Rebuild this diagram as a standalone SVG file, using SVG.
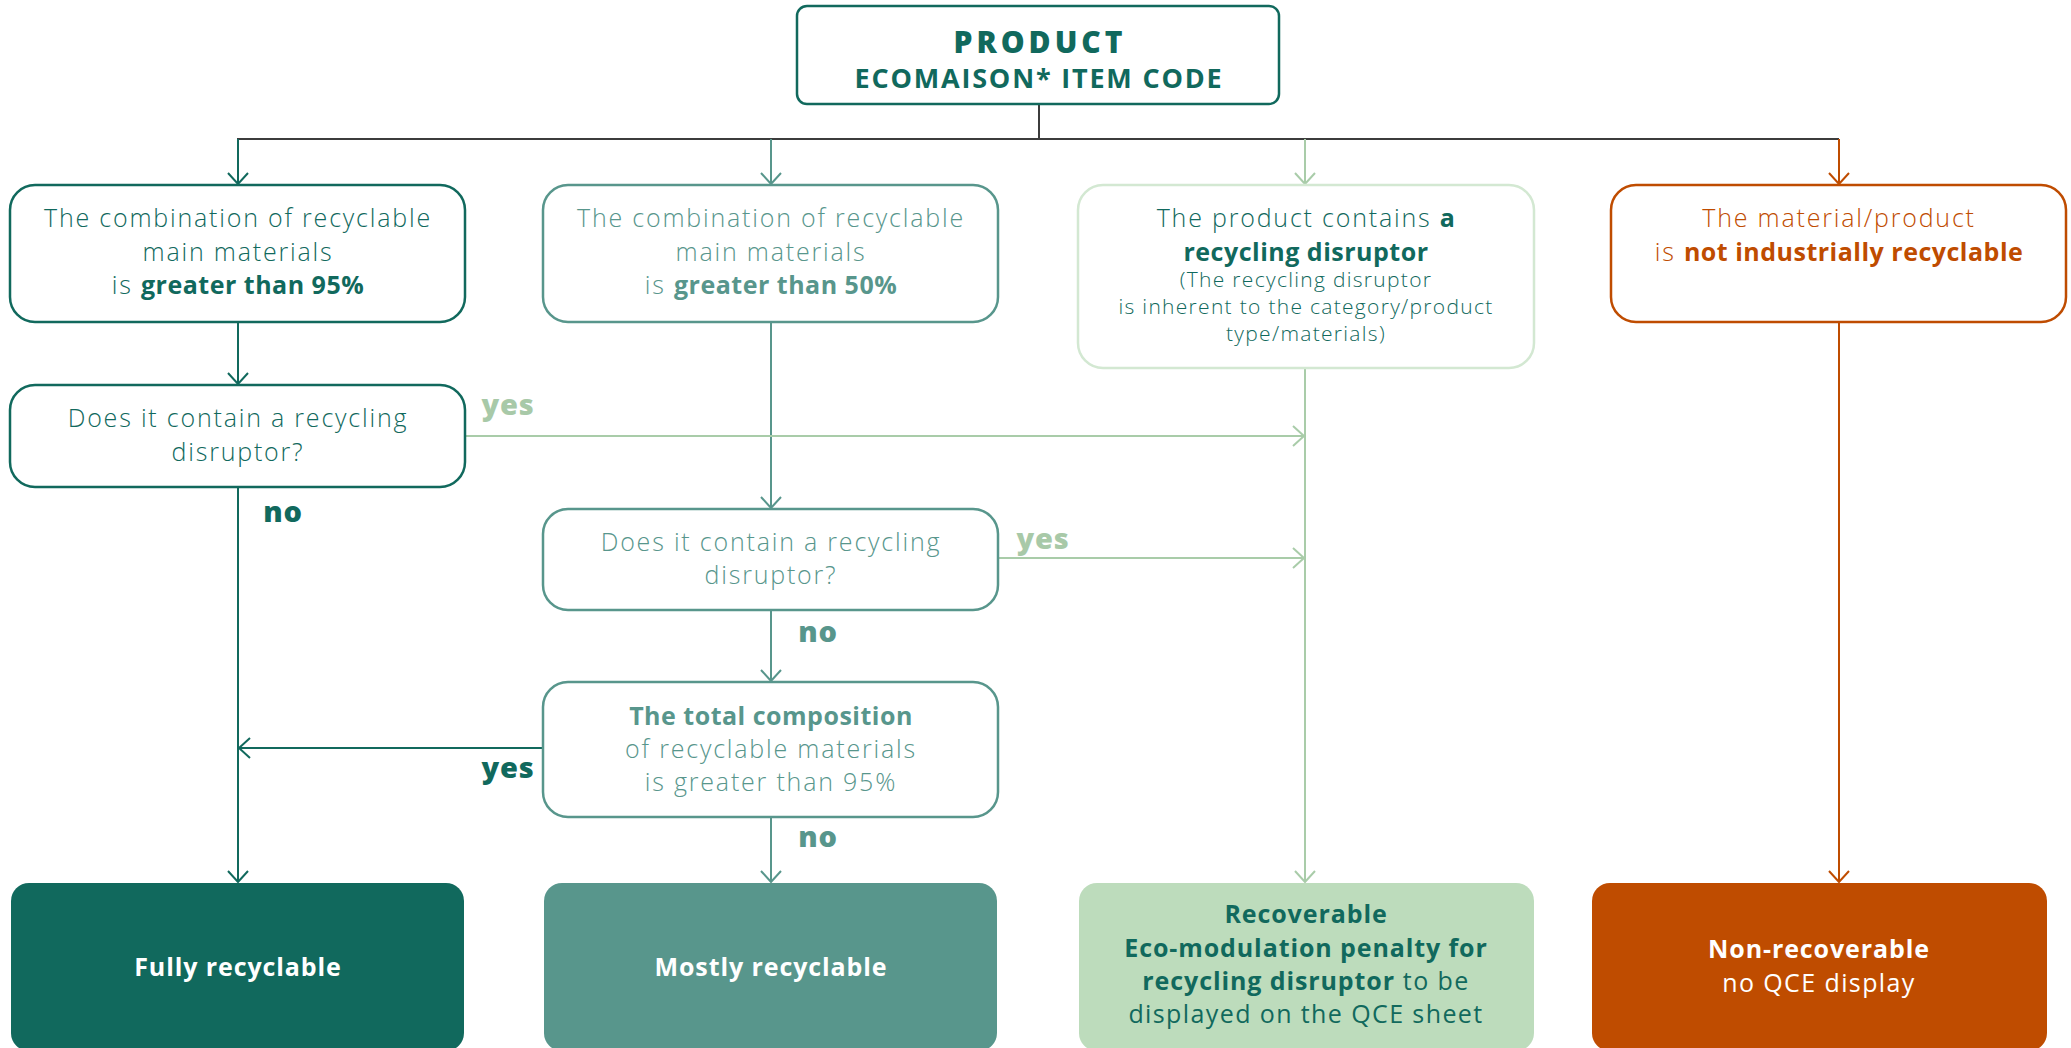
<svg xmlns="http://www.w3.org/2000/svg" width="2071" height="1048" viewBox="0 0 2071 1048">
<defs>
<style>
text{font-family:"Open Sans","Liberation Sans",sans-serif;text-anchor:middle}
.t{font-size:25px;font-weight:300;letter-spacing:1.8px}
.s{font-size:21px;font-weight:300;letter-spacing:1.3px}
.b{font-weight:700;letter-spacing:0.5px}
.bb{font-weight:700;letter-spacing:0.9px}
.r{font-weight:400;letter-spacing:1.4px}
.lbl{font-size:29px;font-weight:800;letter-spacing:0.8px}
.dk{fill:#11695d}.md{fill:#58968c}.lt{fill:#a8c9a8}.or{fill:#bf4c00}.wh{fill:#ffffff}
.box{fill:#ffffff;stroke-width:2.5}
.c{fill:none;stroke-width:2}
</style>
<marker id="aDk" viewBox="-13 -12 15 24" refX="0" refY="0" markerWidth="15" markerHeight="24" markerUnits="userSpaceOnUse" orient="auto"><path d="M-11,-10 L0,0 L-11,10" fill="none" stroke="#11695d" stroke-width="2"/></marker>
<marker id="aMd" viewBox="-13 -12 15 24" refX="0" refY="0" markerWidth="15" markerHeight="24" markerUnits="userSpaceOnUse" orient="auto"><path d="M-11,-10 L0,0 L-11,10" fill="none" stroke="#58968c" stroke-width="2"/></marker>
<marker id="aLt" viewBox="-13 -12 15 24" refX="0" refY="0" markerWidth="15" markerHeight="24" markerUnits="userSpaceOnUse" orient="auto"><path d="M-11,-10 L0,0 L-11,10" fill="none" stroke="#a9cca9" stroke-width="2"/></marker>
<marker id="aOr" viewBox="-13 -12 15 24" refX="0" refY="0" markerWidth="15" markerHeight="24" markerUnits="userSpaceOnUse" orient="auto"><path d="M-11,-10 L0,0 L-11,10" fill="none" stroke="#bf4c00" stroke-width="2"/></marker>
</defs>
<rect width="2071" height="1048" fill="#ffffff"/>

<g id="connectors">
<path class="c" stroke="#3c3c3c" d="M1039,104 V139 M237,139 H1839"/>
<path class="c" stroke="#11695d" marker-end="url(#aDk)" d="M238,139 V184"/>
<path class="c" stroke="#58968c" marker-end="url(#aMd)" d="M771,139 V184"/>
<path class="c" stroke="#a9cca9" marker-end="url(#aLt)" d="M1305,139 V184"/>
<path class="c" stroke="#bf4c00" marker-end="url(#aOr)" d="M1839,139 V184"/>
<path class="c" stroke="#11695d" marker-end="url(#aDk)" d="M238,322 V384"/>
<path class="c" stroke="#11695d" marker-end="url(#aDk)" d="M238,487 V882"/>
<path class="c" stroke="#58968c" marker-end="url(#aMd)" d="M771,322 V508"/>
<path class="c" stroke="#58968c" marker-end="url(#aMd)" d="M771,610 V681"/>
<path class="c" stroke="#58968c" marker-end="url(#aMd)" d="M771,817 V882"/>
<path class="c" stroke="#a9cca9" marker-end="url(#aLt)" d="M1305,368 V882"/>
<path class="c" stroke="#bf4c00" marker-end="url(#aOr)" d="M1839,322 V882"/>
<path class="c" stroke="#a9cca9" marker-end="url(#aLt)" d="M465,436 H1304"/>
<path class="c" stroke="#a9cca9" marker-end="url(#aLt)" d="M998,558 H1304"/>
<path class="c" stroke="#11695d" marker-end="url(#aDk)" d="M543,748 H239"/>
<text class="lbl lt" x="508" y="415">yes</text>
<text class="lbl dk" x="283" y="522">no</text>
<text class="lbl lt" x="1043" y="549">yes</text>
<text class="lbl md" x="818" y="642">no</text>
<text class="lbl dk" x="508" y="778">yes</text>
<text class="lbl md" x="818" y="847">no</text>
</g>

<g id="product">
<rect class="box" x="797" y="6" width="482" height="98" rx="10" stroke="#11695d"/>
<text class="dk" x="1040" y="53" style="font-size:30px;font-weight:900;letter-spacing:4px">PRODUCT</text>
<text class="dk" x="1039" y="88" style="font-size:27px;font-weight:700;letter-spacing:1.8px">ECOMAISON* ITEM CODE</text>
</g>

<g id="box-95">
<rect class="box" x="10" y="185" width="455" height="137" rx="25" stroke="#11695d"/>
<text class="t dk" x="238" y="227">The combination of recyclable</text>
<text class="t dk" x="238" y="261">main materials</text>
<text class="t dk" x="238" y="294">is <tspan class="b">greater than 95%</tspan></text>
</g>

<g id="q-disruptor-1">
<rect class="box" x="10" y="385" width="455" height="102" rx="25" stroke="#11695d"/>
<text class="t dk" x="238" y="427">Does it contain a recycling</text>
<text class="t dk" x="238" y="461">disruptor?</text>
</g>

<g id="box-50">
<rect class="box" x="543" y="185" width="455" height="137" rx="25" stroke="#58968c"/>
<text class="t md" x="771" y="227">The combination of recyclable</text>
<text class="t md" x="771" y="261">main materials</text>
<text class="t md" x="771" y="294">is <tspan class="b">greater than 50%</tspan></text>
</g>

<g id="q-disruptor-2">
<rect class="box" x="543" y="509" width="455" height="101" rx="25" stroke="#58968c"/>
<text class="t md" x="771" y="551">Does it contain a recycling</text>
<text class="t md" x="771" y="584">disruptor?</text>
</g>

<g id="total-composition">
<rect class="box" x="543" y="682" width="455" height="135" rx="25" stroke="#58968c"/>
<text class="t md b" x="771" y="725">The total composition</text>
<text class="t md" x="771" y="758">of recyclable materials</text>
<text class="t md" x="771" y="791">is greater than 95%</text>
</g>

<g id="box-disruptor">
<rect class="box" x="1078" y="185" width="456" height="183" rx="25" stroke="#d3e8d2"/>
<text class="t dk" x="1306" y="227">The product contains <tspan class="b">a</tspan></text>
<text class="t dk b" x="1306" y="261">recycling disruptor</text>
<text class="s dk" x="1306" y="287">(The recycling disruptor</text>
<text class="s dk" x="1306" y="314">is inherent to the category/product</text>
<text class="s dk" x="1306" y="341">type/materials)</text>
</g>

<g id="box-not-recyclable">
<rect class="box" x="1611" y="185" width="455" height="137" rx="25" stroke="#bf4c00"/>
<text class="t or" x="1839" y="227">The material/product</text>
<text class="t or" x="1839" y="261">is <tspan class="b">not industrially recyclable</tspan></text>
</g>

<g id="fully">
<rect x="11" y="883" width="453" height="168" rx="18" fill="#11695d"/>
<text class="t wh bb" x="238" y="976">Fully recyclable</text>
</g>

<g id="mostly">
<rect x="544" y="883" width="453" height="168" rx="18" fill="#58968c"/>
<text class="t wh bb" x="771" y="976">Mostly recyclable</text>
</g>

<g id="recoverable">
<rect x="1079" y="883" width="455" height="168" rx="18" fill="#bddcbc"/>
<text class="t dk bb" x="1306" y="923">Recoverable</text>
<text class="t dk bb" x="1306" y="957">Eco-modulation penalty for</text>
<text class="t dk r" x="1306" y="990"><tspan class="bb">recycling disruptor</tspan> to be</text>
<text class="t dk r" x="1306" y="1023">displayed on the QCE sheet</text>
</g>

<g id="non-recoverable">
<rect x="1592" y="883" width="455" height="168" rx="18" fill="#bf4c00"/>
<text class="t wh bb" x="1819" y="958">Non-recoverable</text>
<text class="t wh r" x="1819" y="992">no QCE display</text>
</g>
</svg>
